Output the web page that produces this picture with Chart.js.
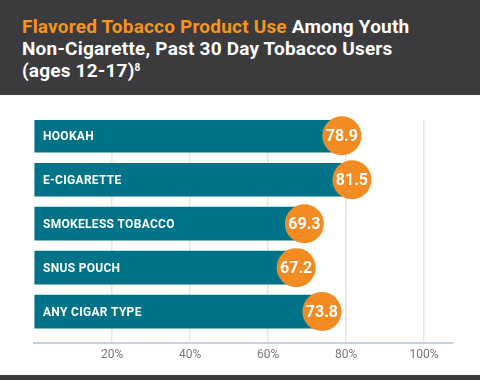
<!DOCTYPE html>
<html>
<head>
<meta charset="utf-8">
<script src="https://cdn.jsdelivr.net/npm/chart.js@4.4.1/dist/chart.umd.min.js"></script>
<style>
  html, body { margin: 0; padding: 0; width: 480px; height: 380px; overflow: hidden; background: #ffffff; font-family: Roboto, "DejaVu Sans", sans-serif; }
  #header { position: absolute; left: 0; top: 0; width: 480px; height: 95px; background: #3b3a3c; }
  #title { position: absolute; left: 22px; top: 16px; color: #ffffff; font-weight: 700; font-size: 19px; line-height: 22px; letter-spacing: 0.2px; white-space: nowrap; }
  #title .hl { color: #f7941d; }
  #title sup { font-size: 10px; vertical-align: top; position: relative; top: -3px; }
  #footer { position: absolute; left: 0; top: 375px; width: 480px; height: 5px; background: #3b3a3c; }
  #wrap { position: absolute; left: 0; top: 0; width: 480px; height: 380px; }
</style>
</head>
<body>
<div id="header"><div id="title"><span class="hl">Flavored Tobacco Product Use</span> Among Youth<br>Non-Cigarette, Past 30 Day Tobacco Users<br>(ages 12-17)<sup>8</sup></div></div>
<div id="footer"></div>
<div id="wrap"><canvas id="c" width="480" height="380"></canvas></div>
<script>
const categories = ["HOOKAH", "E-CIGARETTE", "SMOKELESS TOBACCO", "SNUS POUCH", "ANY CIGAR TYPE"];
const values = [78.9, 81.5, 69.3, 67.2, 73.8];
const tickValues = [0, 20, 40, 60, 80, 100];
const tickLabels = ["", "20%", "40%", "60%", "80%", "100%"];

const points = values.map((v, i) => ({ x: v, y: i }));

const decorate = {
  id: 'decorate',
  afterDatasetsDraw(chart) {
    const ctx = chart.ctx;
    const meta = chart.getDatasetMeta(0);
    const xs = chart.scales.x;
    ctx.save();
    meta.data.forEach((el, i) => {
      ctx.fillStyle = '#ffffff';
      ctx.font = '700 12px Roboto, "DejaVu Sans", sans-serif';
      ctx.textAlign = 'left';
      ctx.textBaseline = 'middle';
      try { ctx.letterSpacing = '0.3px'; } catch (e) {}
      ctx.fillText(categories[i], xs.getPixelForValue(0) + 9, el.y + 1);
      try { ctx.letterSpacing = '0px'; } catch (e) {}
      ctx.beginPath();
      ctx.arc(el.x, el.y, 19.5, 0, Math.PI * 2);
      ctx.fillStyle = '#f38b23';
      ctx.fill();
      ctx.fillStyle = '#ffffff';
      ctx.font = '700 16px Roboto, "DejaVu Sans", sans-serif';
      ctx.textAlign = 'center';
      ctx.fillText(values[i].toFixed(1), el.x, el.y + 1);
    });
    ctx.restore();
  }
};

new Chart(document.getElementById('c'), {
  type: 'bar',
  data: {
    datasets: [{
      data: points,
      backgroundColor: '#007389',
      borderWidth: 0,
      barThickness: 33
    }]
  },
  options: {
    indexAxis: 'y',
    responsive: false,
    animation: false,
    layout: { padding: { top: 120, left: 34, right: 27, bottom: 13 } },
    plugins: { legend: { display: false }, tooltip: { enabled: false } },
    scales: {
      x: {
        type: 'linear',
        min: 0,
        max: 107.4,
        afterBuildTicks(scale) { scale.ticks = tickValues.map(v => ({ value: v })); },
        ticks: {
          padding: 5,
          color: '#777777',
          font: { family: 'Roboto, "DejaVu Sans", sans-serif', size: 12 },
          callback: (v) => tickLabels[tickValues.indexOf(v)]
        },
        grid: {
          drawTicks: false,
          color: (c) => c.tick && c.tick.value === 0 ? 'rgba(0,0,0,0)' : '#e1e6ea',
          lineWidth: 1.5
        },
        border: { display: true, color: '#c9d1d7', width: 2 }
      },
      y: {
        type: 'linear',
        display: false,
        reverse: true,
        offset: false,
        grace: 0,
        min: -0.358,
        max: 4.705
      }
    }
  },
  plugins: [decorate]
});
</script>
</body>
</html>
